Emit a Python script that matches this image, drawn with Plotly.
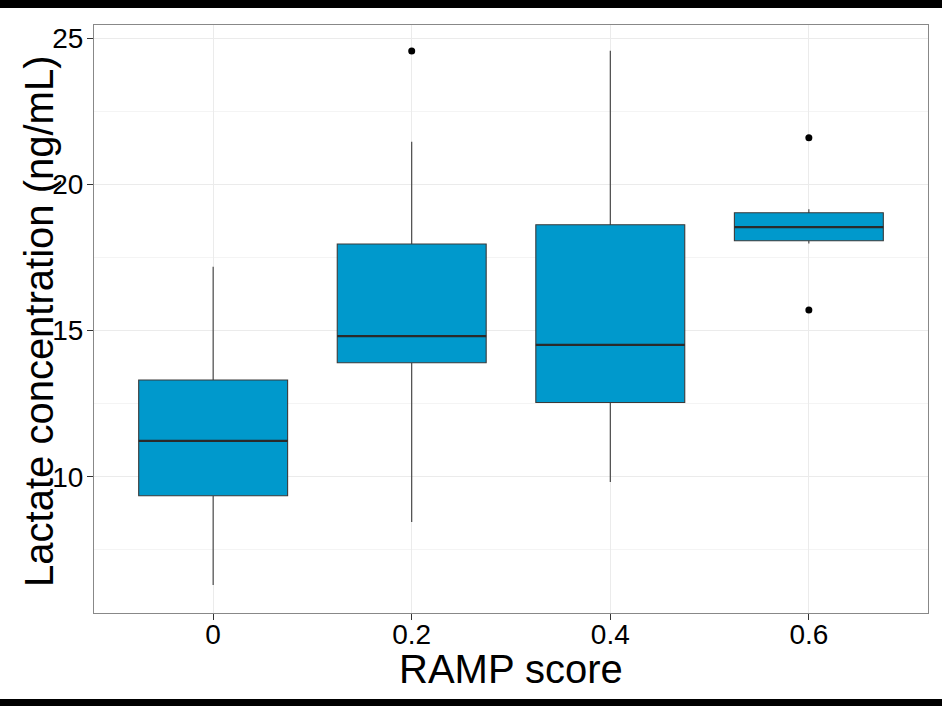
import plotly.graph_objects as go

# ---- data ----
ramp_labels = ["0", "0.2", "0.4", "0.6"]
positions = [0, 1, 2, 3]
lower_whisker = [6.30, 8.45, 9.82, 17.98]
q1 = [9.35, 13.90, 12.54, 18.07]
median = [11.23, 14.81, 14.51, 18.54]
q3 = [13.31, 17.96, 18.62, 19.03]
upper_whisker = [17.18, 21.46, 24.57, 19.15]
outlier_group = [1, 3, 3]
outlier_value = [24.56, 21.59, 15.70]

y_ticks = [10, 15, 20, 25]
y_minor = [7.5, 12.5, 17.5, 22.5]

FONT = "Liberation Sans, Arial, sans-serif"
FILL = "#0099cc"
BOX_W = 0.75

fig = go.Figure()
fig.add_trace(go.Box(
    x=positions, q1=q1, median=median, q3=q3,
    lowerfence=lower_whisker, upperfence=upper_whisker,
    width=BOX_W, whiskerwidth=0,
    fillcolor=FILL, line=dict(color="#3a3a3a", width=1.1),
    boxpoints=False, showlegend=False, hoverinfo="skip",
))
# thicker median bars, as in ggplot
for p, m in zip(positions, median):
    fig.add_trace(go.Scatter(
        x=[p - BOX_W / 2, p + BOX_W / 2], y=[m, m], mode="lines",
        line=dict(color="#2a2a2a", width=2.2), showlegend=False, hoverinfo="skip",
    ))
fig.add_trace(go.Scatter(
    x=outlier_group, y=outlier_value, mode="markers",
    marker=dict(color="black", size=7), showlegend=False, hoverinfo="skip",
))

fig.update_layout(
    width=942, height=706,
    margin=dict(l=94, r=14, t=25, b=93),
    paper_bgcolor="white", plot_bgcolor="white",
    font=dict(family=FONT, color="black"),
    shapes=[
        dict(type="rect", xref="paper", yref="paper", x0=-0.2, x1=1.1,
             y0=(613 - 8) / 588, y1=1.1, fillcolor="black", line_width=0, layer="above"),
        dict(type="rect", xref="paper", yref="paper", x0=-0.2, x1=1.1,
             y0=-0.2, y1=(613 - 699) / 588, fillcolor="black", line_width=0, layer="above"),
    ],
    annotations=[
        dict(text="RAMP score", xref="paper", yref="paper", x=0.5, y=(613 - 669) / 588,
             xanchor="center", yanchor="middle", showarrow=False,
             font=dict(family=FONT, size=40, color="black")),
        dict(text="Lactate concentration (ng/mL)", xref="paper", yref="paper",
             x=(39 - 94) / 834, y=0.495, textangle=-90,
             xanchor="center", yanchor="middle", showarrow=False,
             font=dict(family=FONT, size=40, color="black")),
    ],
)
fig.update_xaxes(
    range=[-0.6, 3.6], tickvals=positions, ticktext=ramp_labels,
    showgrid=True, gridcolor="#ebebeb", gridwidth=1.2, zeroline=False,
    showline=True, linecolor="#888888", linewidth=1, mirror=True,
    ticks="outside", ticklen=6, tickcolor="#333333",
    ticklabelstandoff=-10,
    tickfont=dict(family=FONT, size=28, color="black"),
)
fig.update_yaxes(
    range=[5.34, 25.45], tickvals=y_ticks,
    showgrid=True, gridcolor="#ebebeb", gridwidth=1.2, zeroline=False,
    minor=dict(tickvals=y_minor, showgrid=True, gridcolor="#f4f4f4", gridwidth=0.8, ticks=""),
    showline=True, linecolor="#888888", linewidth=1, mirror=True,
    ticks="outside", ticklen=6, tickcolor="#333333",
    ticklabelstandoff=-2,
    tickfont=dict(family=FONT, size=28, color="black"),
)

fig.write_html(
    "out.html",
    config={"displayModeBar": False},
    post_script="document.body.style.margin='0';document.body.style.overflow='hidden';",
)
